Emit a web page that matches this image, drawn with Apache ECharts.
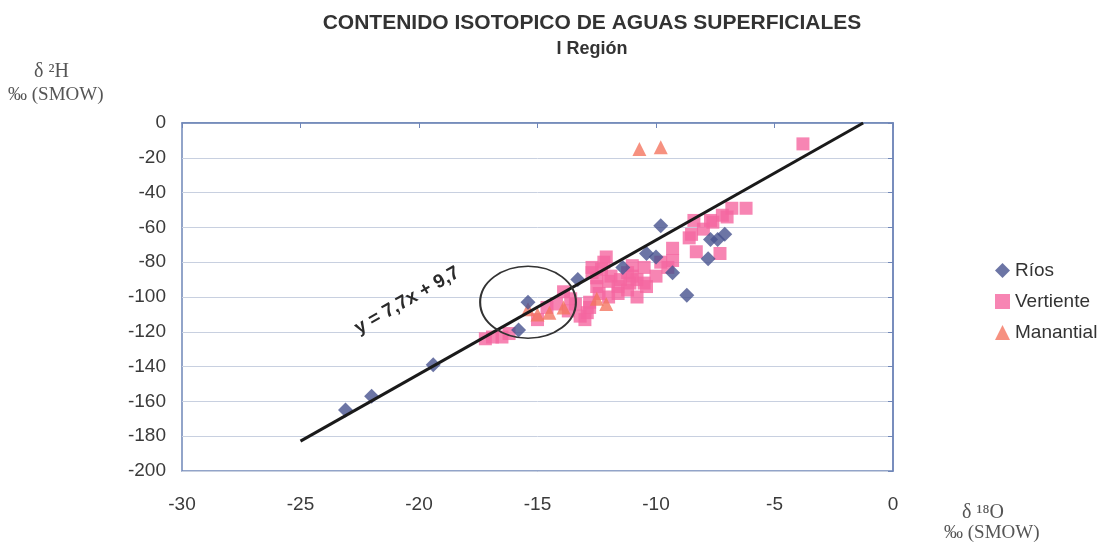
<!DOCTYPE html>
<html>
<head>
<meta charset="utf-8">
<script src="https://cdn.jsdelivr.net/npm/echarts@6/dist/echarts.min.js"></script>
<style>
  html, body { margin: 0; padding: 0; background: #fff; }
  #chart { width: 1100px; height: 544px; }
</style>
</head>
<body>
<div id="chart"></div>
<script>
// datos (d18O, d2H)
const rios = [
  [-23.1, -165], [-22.0, -157], [-19.4, -139], [-15.4, -103], [-15.8, -119],
  [-13.3, -90], [-11.4, -83], [-10.4, -75], [-10.0, -77], [-9.8, -59],
  [-8.7, -99], [-9.3, -86], [-7.7, -67], [-7.1, -64], [-7.8, -78], [-7.4, -67]
]
const vertiente = [
  [-3.8, -12], [-6.2, -49], [-6.8, -49], [-7.2, -53], [-7.7, -56], [-8.4, -56],
  [-8.5, -64], [-8.6, -66], [-8.3, -74], [-7.3, -75], [-8.0, -61], [-7.6, -57],
  [-7.0, -54], [-9.3, -72], [-9.3, -79], [-9.5, -83], [-9.8, -80], [-10.0, -88],
  [-12.1, -77], [-12.7, -83], [-11.2, -86], [-10.8, -90], [-10.5, -92], [-11.6, -94],
  [-12.4, -98], [-12.8, -103], [-12.9, -109], [-11.2, -96], [-10.5, -83], [-12.5, -89],
  [-11.9, -88], [-12.2, -80], [-12.7, -86], [-11.6, -98], [-12.8, -106], [-13.2, -111],
  [-11.1, -92], [-10.4, -94], [-10.8, -100], [-15.0, -113], [-16.9, -123], [-16.5, -123],
  [-17.2, -124], [-14.2, -104], [-13.6, -101], [-13.9, -97], [-11.0, -82], [-12.0, -91],
  [-13.0, -113], [-12.0, -100], [-11.5, -90], [-12.5, -94], [-13.4, -104], [-13.7, -108],
  [-14.6, -106], [-11.0, -88], [-16.2, -121], [-12.3, -84]
]
const manantial = [
  [-10.7, -15], [-9.8, -14], [-13.9, -106], [-14.5, -109], [-15.0, -110],
  [-15.4, -107], [-12.5, -101], [-12.1, -104]
]
// recta y = 7,7x + 9,7
const rectaX = [-25, -1.26]
const rectaY = [-182.8, 0]

const xTicks = [-30, -25, -20, -15, -10, -5, 0]
const yTicks = [0, -20, -40, -60, -80, -100, -120, -140, -160, -180, -200]

const chart = echarts.init(document.getElementById('chart'))

const axisColor = '#6f86b8'
const labelStyle = { color: '#3a3a3a', fontSize: 19, fontFamily: 'Liberation Sans, Arial, sans-serif' }
const serif = 'Liberation Serif, serif'

// textos de los ejes
const axisNames = [
  { type: 'text', left: 34, top: 62, style: { text: 'δ ²H', fontSize: 20, fill: '#555', fontFamily: serif } },
  { type: 'text', left: 8, top: 86, style: { text: '‰ (SMOW)', fontSize: 19, fill: '#555', fontFamily: serif } },
  { type: 'text', left: 962, top: 503, style: { text: 'δ ¹⁸O', fontSize: 20, fill: '#555', fontFamily: serif } },
  { type: 'text', left: 944, top: 524, style: { text: '‰ (SMOW)', fontSize: 19, fill: '#555', fontFamily: serif } }
]

const option = {
  animation: false,
  title: {
    text: 'CONTENIDO ISOTOPICO DE AGUAS SUPERFICIALES',
    subtext: 'I Región',
    left: 587,
    textAlign: 'center',
    top: 8,
    itemGap: 6,
    textStyle: { fontSize: 21, fontWeight: 'bold', color: '#333', fontFamily: 'Liberation Sans Narrow, Arial, sans-serif' },
    subtextStyle: { fontSize: 18, fontWeight: 'bold', color: '#333', fontFamily: 'Liberation Sans Narrow, Arial, sans-serif' }
  },
  legend: {
    orient: 'vertical',
    left: 990,
    top: 256,
    itemGap: 12,
    itemWidth: 15,
    itemHeight: 15,
    textStyle: { fontSize: 19, color: '#333', fontFamily: 'Liberation Sans, Arial, sans-serif' },
    data: [
      { name: 'Ríos', icon: 'diamond' },
      { name: 'Vertiente', icon: 'rect' },
      { name: 'Manantial', icon: 'triangle' }
    ]
  },
  grid: { left: 182, right: 207, top: 123, bottom: 73, show: true, borderColor: axisColor, borderWidth: 1.5 },
  xAxis: [{
    type: 'value', min: -30, max: 0, interval: 5,
    axisLine: { lineStyle: { color: axisColor, width: 1.5 } },
    axisTick: { show: false },
    splitLine: { show: false },
    axisLabel: { ...labelStyle, margin: 24, formatter: v => xTicks.includes(v) ? String(v) : '' }
  }, {
    type: 'value', min: -30, max: 0, interval: 5, position: 'top',
    axisLine: { show: false },
    axisTick: { inside: true, length: 5, lineStyle: { color: axisColor } },
    axisLabel: { show: false }, splitLine: { show: false }
  }],
  yAxis: [{
    type: 'value', min: -200, max: 0, interval: 20,
    axisLine: { show: true, lineStyle: { color: axisColor, width: 1.5 } },
    axisTick: { show: false },
    splitLine: { show: true, lineStyle: { color: '#c8d0e0', width: 1 } },
    axisLabel: { ...labelStyle, margin: 16, formatter: v => yTicks.includes(v) ? String(v) : '' }
  }, {
    type: 'value', min: -200, max: 0, interval: 20, position: 'right',
    axisLine: { show: false },
    axisTick: { show: true, inside: true, length: 5, lineStyle: { color: axisColor } },
    axisLabel: { show: false }, splitLine: { show: false }
  }],
  series: [
    {
      name: 'Vertiente', type: 'scatter', symbol: 'rect', symbolSize: 13,
      itemStyle: { color: '#f566a0' }, data: vertiente, z: 2
    },
    {
      name: 'Manantial', type: 'scatter', symbol: 'triangle', symbolSize: 14,
      itemStyle: { color: '#f47560' }, data: manantial, z: 3
    },
    {
      name: 'Ríos', type: 'scatter', symbol: 'diamond', symbolSize: 15,
      itemStyle: { color: '#47528f' }, data: rios, z: 4
    },
    {
      name: 'recta', type: 'line', symbol: 'none', silent: true,
      lineStyle: { color: '#1a1a1a', width: 3 },
      data: rectaX.map((x, i) => [x, rectaY[i]]), z: 5
    }
  ],
  graphic: axisNames
}

chart.setOption(option)

// elipse y ecuacion de la recta
const c = chart.convertToPixel({ gridIndex: 0 }, [-15.4, -103])
const t = chart.convertToPixel({ gridIndex: 0 }, [-20.5, -102])
chart.setOption({
  graphic: axisNames.concat([
    {
      type: 'circle', x: c[0], y: c[1], scaleX: 1.33, scaleY: 1, z: 10,
      shape: { cx: 0, cy: 0, r: 36 },
      style: { fill: 'none', stroke: '#333', lineWidth: 1.6 }
    },
    {
      type: 'text', x: t[0], y: t[1], rotation: 0.52, z: 10,
      style: {
        text: 'y = 7,7x + 9,7', fontSize: 19, fontWeight: 'bold', fill: '#2a2a2a',
        fontFamily: 'Liberation Sans, Arial, sans-serif', align: 'center', verticalAlign: 'middle'
      }
    }
  ])
}, { replaceMerge: ['graphic'] })
</script>
</body>
</html>
